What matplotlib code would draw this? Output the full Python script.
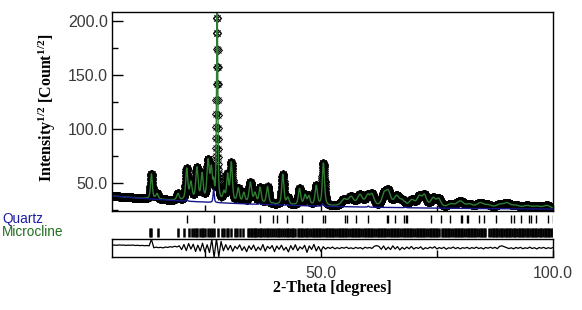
import numpy as np
import matplotlib
matplotlib.use("Agg")
import matplotlib.pyplot as plt
from matplotlib.ticker import FixedLocator, NullFormatter

plt.rcParams['mathtext.fontset'] = 'custom'
plt.rcParams['mathtext.rm'] = 'Liberation Serif:bold'
plt.rcParams['mathtext.it'] = 'Liberation Serif:bold'
plt.rcParams['mathtext.bf'] = 'Liberation Serif:bold'

# scan range and step (degrees 2-theta)
scan_start = 5.0
scan_end = 100.0
scan_step = 0.02

# background a + b*exp(-x/c), sqrt(counts)
bg_coef = [25.0, 15.0, 35.0]

# quartz contribution (position, height)
quartz_pos = [21.1, 26.9, 36.8, 39.7, 42.7, 50.4, 60.2, 68.2]
quartz_amp = [2.0, 12.0, 1.0, 0.8, 0.6, 2.5, 1.0, 1.0]

# microcline peaks (position, height above background, fwhm)
micro_pos = [13.5, 14.7, 19.2, 21.1, 22.0, 23.3, 24.4, 25.7, 26.4, 27.65,
             29.1, 29.9, 30.7, 32.2, 33.4, 34.8, 35.8, 36.9, 38.5, 41.8,
             42.9, 45.4, 46.6, 47.4, 49.0, 50.55,
             55.0, 56.5, 58.4, 60.0, 61.0, 63.6, 64.5, 66.3, 67.5, 69.6,
             71.2, 72.3, 74.2, 75.4, 78.0, 80.0, 82.0, 84.3, 86.0, 88.5,
             90.1, 92.0, 94.4, 96.5, 98.7]
micro_amp = [23, 5, 6, 27, 16, 30, 24, 36, 28, 185,
             8, 24, 36, 13, 9, 19, 9, 14, 16, 28,
             6, 15, 9, 8, 18, 38,
             6, 8, 10, 8, 10, 10, 13, 9, 5, 6,
             9, 10, 8, 7, 3, 6, 3, 4.5, 2.5, 3,
             4.5, 2.5, 2.5, 2, 3]
micro_fwhm = [0.45, 0.6, 0.6, 0.55, 0.6, 0.6, 0.55, 0.6, 0.55, 0.3,
              0.55, 0.5, 0.55, 0.6, 0.6, 0.65, 0.6, 0.6, 0.6, 0.55,
              0.6, 0.6, 0.6, 0.6, 0.6, 0.55,
              1.4, 1.3, 1.3, 1.1, 1.1, 1.1, 1.2, 1.3, 1.3, 1.4,
              1.2, 1.1, 1.3, 1.1, 1.6, 1.8, 1.6, 1.8, 1.8, 1.8,
              1.8, 1.8, 2.0, 2.0, 1.8]

# reflection markers
quartz_ticks = [21.1, 26.9, 36.8, 39.7, 40.5, 42.7, 46.0, 50.4, 50.9, 55.1,
                55.6, 57.5, 60.2, 64.2, 64.4, 66.0, 68.0, 68.4, 68.6, 73.7,
                75.9, 77.9, 80.1, 80.3, 81.4, 81.7, 84.1, 85.2, 87.7, 91.0,
                91.7, 93.0, 94.8, 95.3, 96.4, 98.9, 100.0]
microcline_ticks = [13.1, 13.4, 14.9, 19.2, 20.5, 21.6, 22.3, 22.6, 23.0, 23.4,
                    23.9, 24.3, 24.6, 25.0, 25.7, 26.1, 26.6, 27.0, 27.9, 28.8,
                    29.2, 29.7, 30.0, 30.7, 31.5, 32.0, 32.5, 33.3, 34.3, 34.6,
                    34.9, 35.2, 35.5, 35.8, 36.1, 36.4, 36.8, 37.2, 37.5, 37.9,
                    38.4, 38.7, 39.0, 39.4, 40.0, 40.3, 40.7, 41.0, 41.4, 41.8,
                    42.3, 42.6, 43.0, 43.3, 43.7, 44.0, 44.4, 45.0, 45.3, 45.7,
                    46.0, 46.4, 46.7, 47.1, 47.4, 47.8, 48.2, 48.5, 48.9, 49.2,
                    49.6, 49.9, 50.3, 50.6, 51.0, 51.3, 51.7, 52.0, 52.4, 52.7,
                    53.1, 53.4, 53.8, 54.1, 54.5, 54.8, 55.2, 55.5, 55.9, 56.2,
                    56.6, 56.9, 57.3, 57.6, 58.0, 58.3, 58.7, 59.0, 59.4, 59.7,
                    60.1, 60.4, 60.8, 61.1, 61.5, 61.8, 62.2, 62.5, 62.9, 63.2,
                    63.6, 63.9, 64.3, 64.6, 65.0, 65.3, 65.7, 66.0, 66.4, 66.7,
                    67.1, 67.4, 67.8, 68.1, 68.5, 68.8, 69.2, 69.5, 69.9, 70.2,
                    70.6, 70.9, 71.3, 71.6, 72.0, 72.3, 72.7, 73.0, 73.4, 73.7,
                    74.1, 74.4, 74.8, 75.1, 75.4, 76.0, 76.3, 76.7, 77.0, 77.4,
                    77.7, 78.1, 78.4, 78.8, 79.1, 79.5, 79.8, 80.2, 80.5, 80.9,
                    81.2, 81.6, 81.9, 82.3, 82.6, 83.0, 83.3, 83.7, 84.0, 84.4,
                    84.7, 85.1, 85.4, 86.3, 86.6, 87.0, 87.3, 87.7, 88.0, 88.4,
                    88.7, 89.1, 89.4, 89.8, 90.1, 90.5, 90.8, 91.2, 91.5, 91.9,
                    92.2, 92.6, 92.9, 93.3, 93.6, 94.0, 94.3, 94.7, 95.0, 95.4,
                    95.7, 96.1, 96.4, 96.8, 97.1, 97.5, 97.8, 98.2, 98.5, 98.9,
                    99.2, 99.6, 99.9]

# difference curve (obs - calc), every 0.5 deg from 5.0
diff_start = 5.0
diff_step = 0.5
diff_vals = [2.6, 2.7, 2.5, 2.8, 2.6, 2.7, 2.4, 2.6, 2.5, 2.7, 2.3, 2.5, 2.2, 2.4, 2.1, 2.3, 2.0,
             8.0,
             0.2, 0.8, 0.3, 0.6, 0.1, 0.9, 0.5, 1.2, 0.8, 1.6, 1.0, 2.0,
             -1.5, 3.2, -2.4, 4.1, -1.0, 3.5, -3.2, 2.6, -2.8, 4.4, -3.6, 3.0, -4.2,
             7.8, -8.5, 8.5, -7.9, 6.0,
             -2.5, 3.1, -1.8, 2.4, -3.0, 1.6, -0.8, 2.9, -2.2, 1.2,
             -3.4, 2.0, -1.4, 2.7, -2.6, 0.9, -1.9, 3.2, -2.9, 1.5,
             -0.6, 2.3, -3.3, 1.8, -1.2, 2.6, -2.0, 0.7, -3.6, 2.2,
             -1.6, 3.0, -2.4, 1.1, -0.9, 2.5, -4.0, 1.9, -1.3, 3.3,
             -2.7, 1.4, -3.1,
             1.2, -1.0, 0.6, -0.4, 0.9, -0.8, 0.3, -0.6, 0.5, -0.2,
             0.8, -0.5, 0.2, -0.7, 0.6, -0.3, 0.4, -0.9, 0.7, -0.1,
             0.5, -0.4, 1.6, 2.2,
             1.5, -1.2, 1.9, -1.6, 0.8, -1.4, 2.0, -0.9, 1.3, -1.8, 0.6, -1.1,
             0.9, -0.7, 1.4, -1.0, 0.5, -0.4, 1.1, -1.3, 0.3, -0.6,
             0.8, -0.2, 1.2, -0.9, 0.4, -0.5, 0.7, -1.1, 0.2, -0.3,
             0.9, -0.6, 0.5, -0.8, 0.3, -0.2, 0.6, -0.7, 0.4, -0.4,
             0.8, -0.5, 0.3, -0.9, 0.5, -0.2, 0.7, -0.3, 0.6, -0.6,
             1.5, 2.0, 1.2, 0.4, -0.5, 0.2, -0.8, 0.5, -0.3, 0.6,
             -0.7, 0.2, -0.4, 0.8, -0.5, 0.3, -0.9, 0.4, -0.2, 0.6,
             -0.6, 0.3, -0.4, 0.5]


def pseudo_voigt(x, x0, w, eta=0.6):
    d = (x - x0) / w
    g = np.exp(-4 * np.log(2) * d ** 2)
    l = 1.0 / (1.0 + 4 * d ** 2)
    return eta * l + (1 - eta) * g


tt = np.arange(scan_start, scan_end + scan_step / 2, scan_step)
background = bg_coef[0] + bg_coef[1] * np.exp(-tt / bg_coef[2])
bg_quartz = background.copy()
for p, a in zip(quartz_pos, quartz_amp):
    bg_quartz += a * pseudo_voigt(tt, p, 0.3)
calc = bg_quartz.copy()
for p, a, w in zip(micro_pos, micro_amp, micro_fwhm):
    calc += a * pseudo_voigt(tt, p, w)
obs = calc

diff_x = diff_start + diff_step * np.arange(len(diff_vals))

W, H = 582, 310
fig = plt.figure(figsize=(W / 100, H / 100), dpi=100)
fig.patch.set_facecolor('white')

left = 112 / W
width = 441 / W
ax = fig.add_axes([left, 1 - 211 / H, width, 199 / H])
axt = fig.add_axes([left, 1 - 238 / H, width, 25 / H])
axd = fig.add_axes([left, 1 - 256.7 / H, width, 17.4 / H])

tick_font = dict(family='Liberation Sans', size=11.5)
tick_color = '#3a3a3a'

# main pattern
ax.plot(tt, obs, ls='none', marker='D', ms=4.4, mfc='none', mec='black', mew=0.7)
ax.plot(tt, obs, ls='none', marker='x', ms=3.8, mec='black', mew=0.6)
ax.plot(tt, calc, color='#2e7d32', lw=1.0)
ax.plot(tt, bg_quartz, color='#141488', lw=1.0)
ax.set_xlim(scan_start, scan_end)
ax.set_ylim(24.1, 208.3)
ax.yaxis.set_major_locator(FixedLocator([50, 100, 150, 200]))
ax.yaxis.set_minor_locator(FixedLocator([25, 75, 125, 175]))
ax.set_yticklabels(['50.0', '100.0', '150.0', '200.0'], **tick_font, color=tick_color)
ax.xaxis.set_major_locator(FixedLocator([50, 100]))
ax.xaxis.set_minor_locator(FixedLocator([25, 75]))
ax.xaxis.set_major_formatter(NullFormatter())
ax.tick_params(axis='y', which='major', direction='in', length=8, width=1, pad=3)
ax.tick_params(axis='y', which='minor', direction='in', length=4.5, width=1)
ax.tick_params(axis='x', which='both', direction='in', length=4, width=1)
for s in ax.spines.values():
    s.set_linewidth(1.0)

# reflection ticks
axt.vlines(quartz_ticks, 14.7, 23.0, color='black', lw=1.0)
axt.vlines(microcline_ticks, 0.7, 9.7, color='black', lw=1.8)
axt.set_xlim(scan_start, scan_end)
axt.set_ylim(0, 25)
axt.axis('off')

# difference curve
axd.plot(diff_x, diff_vals, color='black', lw=0.9)
axd.set_xlim(scan_start, scan_end)
axd.set_ylim(-8, 8)
axd.set_yticks([])
axd.xaxis.set_major_locator(FixedLocator([50, 100]))
axd.xaxis.set_minor_locator(FixedLocator([25, 75]))
axd.set_xticklabels(['50.0', '100.0'], **tick_font, color=tick_color)
axd.tick_params(axis='x', which='major', direction='in', length=5, width=1, pad=7)
axd.tick_params(axis='x', which='minor', direction='in', length=5, width=1)
for s in axd.spines.values():
    s.set_linewidth(1.0)

# labels
fig.text(332.5 / W, 1 - 288 / H, '2-Theta [degrees]', ha='center', va='center',
         family='Liberation Serif', weight='bold', size=11.5)
fig.text(47 / W, 1 - 108 / H, r'Intensity$^{1/2}$ [Count$^{1/2}$]', ha='center', va='center',
         rotation=90, family='Liberation Serif', weight='bold', size=11.5)
fig.text(2 / W, 1 - 222.5 / H, 'Quartz', ha='left', va='baseline', color='#1c1ca8',
         family='Liberation Sans', size=9.8)
fig.text(2 / W, 1 - 236 / H, 'Microcline', ha='left', va='baseline', color='#1f6e1f',
         family='Liberation Sans', size=9.8)

fig.savefig('out.png', dpi=100)
